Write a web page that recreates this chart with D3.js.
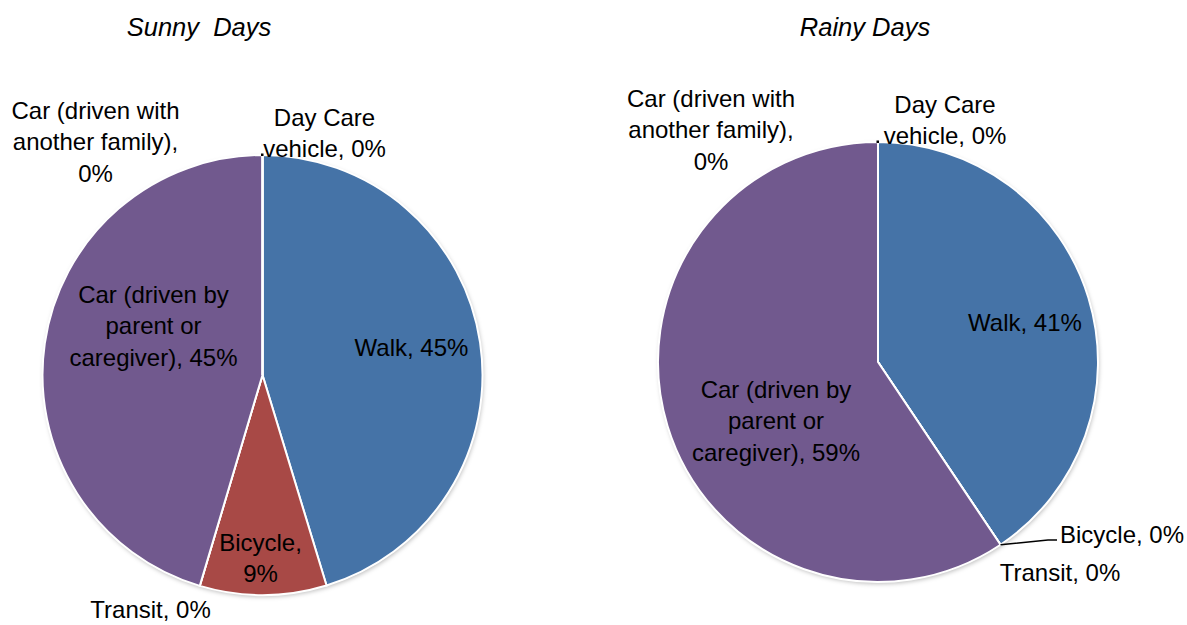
<!DOCTYPE html>
<html>
<head>
<meta charset="utf-8">
<script src="https://cdn.jsdelivr.net/npm/d3@7"></script>
<style>
  body { margin: 0; background: #fff; }
  svg { display: block; font-family: "Liberation Sans", Arial, sans-serif; }
</style>
</head>
<body>
<div id="chart"></div>
<script>
// data
var categories = ["Walk", "Bicycle", "Transit", "Car (driven by parent or caregiver)",
                  "Car (driven with another family)", "Day Care vehicle"];
var sunnyValues = [45.3, 9.3, 0, 45.4, 0, 0];
var rainyValues = [40.6, 0, 0, 59.4, 0, 0];
var chartTitles = ["Sunny  Days", "Rainy Days"];

var colors = {
  "Walk": "#4573a7",
  "Bicycle": "#a84946",
  "Transit": "#89a54e",
  "Car (driven by parent or caregiver)": "#71598e",
  "Car (driven with another family)": "#4298af",
  "Day Care vehicle": "#db843d"
};

var W = 1187, H = 625, R = 220;

var svg = d3.select("#chart").append("svg")
    .attr("width", W).attr("height", H);

var defs = svg.append("defs");
var f = defs.append("filter").attr("id", "shadow")
    .attr("x", "-10%").attr("y", "-10%").attr("width", "120%").attr("height", "120%");
f.append("feDropShadow").attr("dx", 1).attr("dy", 2).attr("stdDeviation", 2)
    .attr("flood-color", "#000").attr("flood-opacity", 0.25);

// label layout (offsets from pie centre to the middle of the label block)
var layouts = [
  {
    cx: 262.5, cy: 375, titleX: 199,
    labels: [
      {i: 0, dx: 149, dy: -27, lines: ["Walk, "]},
      {i: 1, dx: -2, dy: 183, lines: ["Bicycle,", ""]},
      {i: 2, dx: -112, dy: 235, lines: ["Transit, "]},
      {i: 3, dx: -109, dy: -49, lines: ["Car (driven by", "parent or", "caregiver), "]},
      {i: 4, dx: -167, dy: -233, lines: ["Car (driven with", "another family),", ""]},
      {i: 5, dx: 62, dy: -242, lines: ["Day Care", "vehicle, "]}
    ]
  },
  {
    cx: 878, cy: 362, titleX: 865,
    labels: [
      {i: 0, dx: 147, dy: -39, lines: ["Walk, "]},
      {i: 1, dx: 182, dy: 173, lines: ["Bicycle, "], anchor: "start", leader: true},
      {i: 2, dx: 182, dy: 211, lines: ["Transit, "]},
      {i: 3, dx: -102, dy: 59, lines: ["Car (driven by", "parent or", "caregiver), "]},
      {i: 4, dx: -167, dy: -232, lines: ["Car (driven with", "another family),", ""]},
      {i: 5, dx: 67, dy: -242, lines: ["Day Care", "vehicle, "]}
    ]
  }
];

var pie = d3.pie().sort(null).value(function(d) { return d; });
var arc = d3.arc().innerRadius(0).outerRadius(R);

[sunnyValues, rainyValues].forEach(function(values, k) {
  var L = layouts[k];
  var g = svg.append("g").attr("transform", "translate(" + L.cx + "," + L.cy + ")");

  svg.append("text")
      .attr("x", L.titleX).attr("y", 27).attr("dy", "0.35em")
      .attr("text-anchor", "middle")
      .style("font-size", "25.5px").style("font-style", "italic")
      .style("white-space", "pre")
      .text(chartTitles[k]);

  var arcs = pie(values);

  g.append("circle").attr("r", R).attr("fill", "#fff").attr("filter", "url(#shadow)");

  g.selectAll("path.slice")
    .data(arcs)
    .enter().append("path")
      .attr("class", "slice")
      .attr("d", arc)
      .attr("fill", function(d, i) { return colors[categories[i]]; })
      .attr("stroke", "#fff")
      .attr("stroke-width", 2);

  // tiny mark where the zero slices sit
  g.append("rect").attr("x", -1.5).attr("y", -R - 1.5).attr("width", 2.5).attr("height", 2.5).attr("fill", "#000");

  L.labels.forEach(function(lb) {
    var pct = Math.round(values[lb.i]) + "%";
    var lines = lb.lines.slice();
    lines[lines.length - 1] += pct;
    var n = lines.length, lh = 31.5;
    var t = g.append("text")
        .attr("text-anchor", lb.anchor || "middle")
        .style("font-size", "24px")
        .attr("fill", "#000");
    lines.forEach(function(s, j) {
      t.append("tspan")
        .attr("x", lb.dx)
        .attr("y", lb.dy + (j - (n - 1) / 2) * lh)
        .attr("dy", "0.35em")
        .text(s);
    });
    if (lb.leader) {
      var a = arcs[lb.i];
      var p = [Math.sin(a.startAngle) * R, -Math.cos(a.startAngle) * R];
      g.append("polyline")
        .attr("points", [p, [lb.dx - 12, lb.dy + 5], [lb.dx - 3, lb.dy + 5]].map(function(q) { return q.join(","); }).join(" "))
        .attr("fill", "none").attr("stroke", "#000").attr("stroke-width", 1.5);
    }
  });
});
</script>
</body>
</html>
